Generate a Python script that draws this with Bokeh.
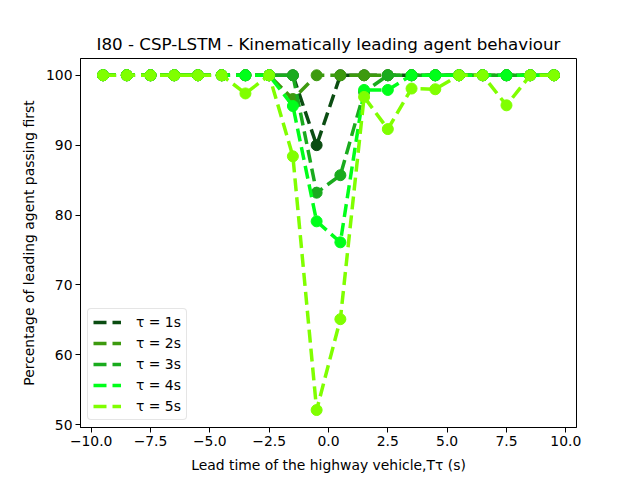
from bokeh.plotting import figure
from bokeh.models import FixedTicker, Range1d, Legend, LegendItem
from bokeh.embed import file_html
from bokeh.resources import INLINE

lead_time = [-9.5, -8.5, -7.5, -6.5, -5.5, -4.5, -3.5, -2.5, -1.5, -0.5,
             0.5, 1.5, 2.5, 3.5, 4.5, 5.5, 6.5, 7.5, 8.5, 9.5]
tau1 = [100, 100, 100, 100, 100, 100, 100, 100, 100, 90.0,
        100, 100, 100, 100, 100, 100, 100, 100, 100, 100]
tau2 = [100, 100, 100, 100, 100, 100, 100, 100, 96.6, 100,
        100, 100, 100, 100, 100, 100, 100, 100, 100, 100]
tau3 = [100, 100, 100, 100, 100, 100, 100, 100, 100, 83.2,
        85.7, 97.6, 100, 100, 100, 100, 100, 100, 100, 100]
tau4 = [100, 100, 100, 100, 100, 100, 100, 100, 95.6, 79.1,
        76.1, 97.9, 97.9, 100, 100, 100, 100, 100, 100, 100]
tau5 = [100, 100, 100, 100, 100, 100, 97.4, 100, 88.4, 52.1,
        65.1, 96.9, 92.3, 98.1, 98.0, 100, 100, 95.7, 100, 100]
series = [tau1, tau2, tau3, tau4, tau5]
labels = ["τ = 1s", "τ = 2s", "τ = 3s", "τ = 4s", "τ = 5s"]
colors = ["#0b4d12", "#3d9a0f", "#1aab1e", "#00ff1a", "#80ff00"]
x_ticks = [-10.0, -7.5, -5.0, -2.5, 0.0, 2.5, 5.0, 7.5, 10.0]
y_ticks = [50, 60, 70, 80, 90, 100]

FONT = "DejaVu Sans"

p = figure(frame_width=496, frame_height=369,
           min_border_left=80, min_border_right=48,
           min_border_top=58, min_border_bottom=45,
           output_backend="svg", toolbar_location=None,
           x_range=Range1d(-10.45, 10.45), y_range=Range1d(49.6, 102.4),
           title="I80 - CSP-LSTM - Kinematically leading agent behaviour")

p.title.align = "center"
p.title.text_font = FONT
p.title.text_font_size = "16.7px"
p.title.text_font_style = "normal"
p.title.text_color = "black"
p.title.standoff = 9

p.outline_line_color = "black"
p.outline_line_width = 1
p.outline_line_alpha = 1
p.grid.visible = False
p.background_fill_color = "white"
p.border_fill_color = "white"

for ax in (p.xaxis[0], p.yaxis[0]):
    ax.axis_line_color = "black"
    ax.major_tick_in = 0
    ax.major_tick_out = 5
    ax.minor_tick_line_color = None
    ax.major_tick_line_color = "black"
    ax.major_label_text_font = FONT
    ax.major_label_text_font_size = "13.9px"
    ax.major_label_text_color = "black"
    ax.axis_label_text_font = FONT
    ax.axis_label_text_font_size = "13.9px"
    ax.axis_label_text_font_style = "normal"
    ax.axis_label_text_color = "black"
    ax.major_label_standoff = 3

p.xaxis.ticker = FixedTicker(ticks=x_ticks)
p.xaxis.major_label_overrides = {t: f"{t:.1f}".replace("-", "\u2212") for t in x_ticks}
p.yaxis.ticker = FixedTicker(ticks=y_ticks)
p.xaxis.axis_label = "Lead time of the highway vehicle,Tτ (s)"
p.yaxis.axis_label = "Percentage of leading agent passing first"
p.xaxis.axis_label_standoff = 8
p.yaxis.axis_label_standoff = 6

items = []
for ys, lab, col in zip(series, labels, colors):
    r = p.line(lead_time, ys, line_color=col, line_width=3.5, line_dash="13 6")
    p.scatter(lead_time, ys, size=11, fill_color=col, line_color=col)
    items.append(LegendItem(label=lab, renderers=[r]))

legend = Legend(items=items, location=(7, 7))
legend.label_text_font = FONT
legend.label_text_font_size = "13.9px"
legend.label_text_color = "black"
legend.glyph_width = 28
legend.glyph_height = 16
legend.label_height = 16
legend.label_standoff = 15
legend.spacing = 5
legend.padding = 5
legend.margin = 0
legend.border_line_color = "#cccccc"
legend.border_line_width = 1
legend.border_radius = 4
legend.background_fill_alpha = 0.8
p.add_layout(legend, "center")

open("out.html", "w").write(file_html(p, INLINE))
